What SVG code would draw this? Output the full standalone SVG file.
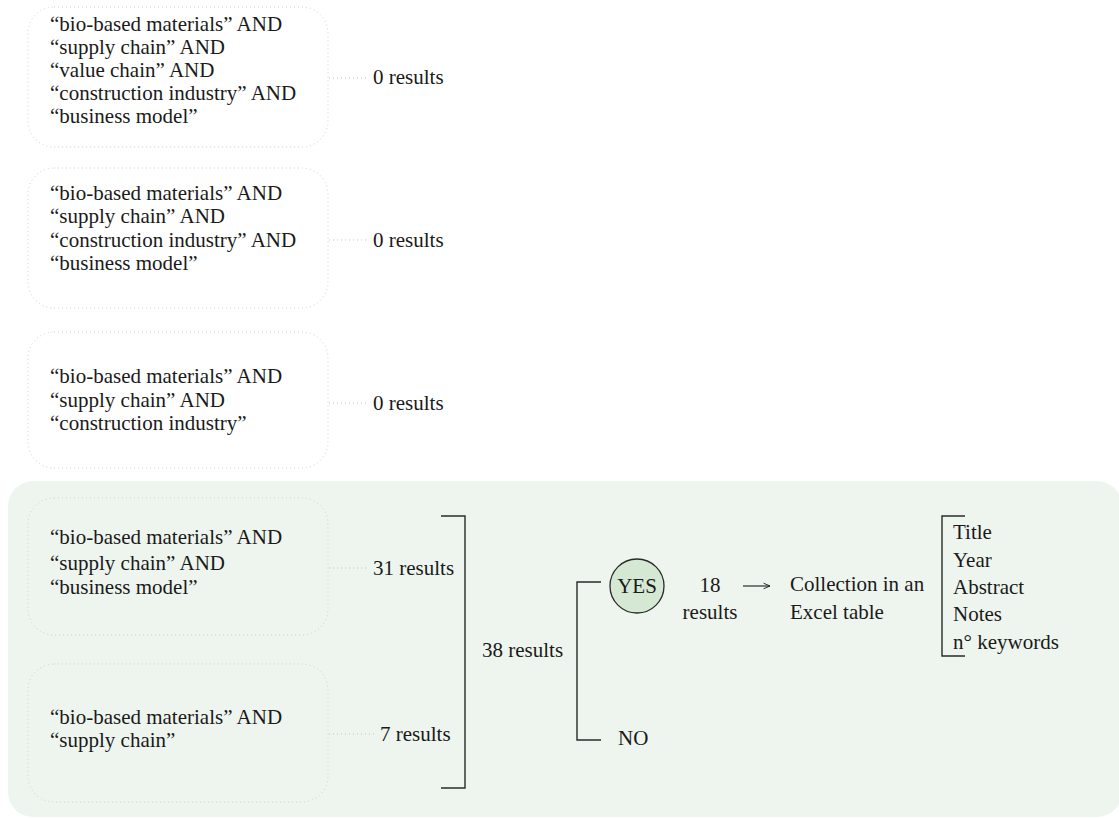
<svg xmlns="http://www.w3.org/2000/svg" width="1119" height="818" viewBox="0 0 1119 818">
  <style>
    text { font-family: "Liberation Serif", "DejaVu Serif", serif; font-size: 21px; fill: #1a1a1a; }
    .query { fill: none; stroke: #cfcfcf; stroke-width: 1; stroke-dasharray: 1 3; }
    .lead { fill: none; stroke: #c4c4c4; stroke-width: 1; stroke-dasharray: 1 3; }
    .bracket { fill: none; stroke: #2a2a2a; stroke-width: 1.4; }
    .mid { text-anchor: middle; }
  </style>
  <defs>
    <marker id="arrowhead" viewBox="0 0 10 10" refX="9" refY="5" markerWidth="8" markerHeight="8" orient="auto" markerUnits="userSpaceOnUse">
      <path d="M1,1.5 L9,5 L1,8.5" fill="none" stroke="#1a1a1a" stroke-width="1.1"/>
    </marker>
  </defs>

  <!-- selection panel behind the two productive queries -->
  <rect id="panel" x="8" y="481" width="1114" height="336" rx="25" fill="#eef5ee"/>

  <g id="q1">
    <rect class="query" x="28" y="7" width="300" height="140" rx="26"/>
    <text x="50" y="31">“bio-based materials” AND</text>
    <text x="50" y="54">“supply chain” AND</text>
    <text x="50" y="77">“value chain” AND</text>
    <text x="50" y="100">“construction industry” AND</text>
    <text x="50" y="123">“business model”</text>
  </g>
  <g id="r1"><text x="373" y="84">0 results</text></g>

  <g id="q2">
    <rect class="query" x="28" y="168" width="300" height="140" rx="26"/>
    <text x="50" y="200">“bio-based materials” AND</text>
    <text x="50" y="223">“supply chain” AND</text>
    <text x="50" y="247">“construction industry” AND</text>
    <text x="50" y="270">“business model”</text>
  </g>
  <g id="r2"><text x="373" y="247">0 results</text></g>

  <g id="q3">
    <rect class="query" x="28" y="332" width="300" height="136" rx="26"/>
    <text x="50" y="383">“bio-based materials” AND</text>
    <text x="50" y="407">“supply chain” AND</text>
    <text x="50" y="430">“construction industry”</text>
  </g>
  <g id="r3"><text x="373" y="410">0 results</text></g>

  <g id="q4">
    <rect class="query" x="28" y="498" width="300" height="137" rx="26"/>
    <text x="50" y="544">“bio-based materials” AND</text>
    <text x="50" y="570">“supply chain” AND</text>
    <text x="50" y="594">“business model”</text>
  </g>
  <g id="r4"><text x="373" y="575">31 results</text></g>

  <g id="q5">
    <rect class="query" x="28" y="664" width="300" height="138" rx="26"/>
    <text x="50" y="724">“bio-based materials” AND</text>
    <text x="50" y="747">“supply chain”</text>
  </g>
  <g id="r5"><text x="380" y="741">7 results</text></g>

  <g id="total"><text x="482" y="657">38 results</text></g>

  <g id="yes">
    <circle cx="637" cy="586" r="27" fill="#d5e8d4" stroke="#2a2a2a" stroke-width="1.3"/>
    <text class="mid" x="637" y="593">YES</text>
  </g>
  <g id="no"><text x="618" y="745">NO</text></g>

  <g id="kept">
    <text class="mid" x="710" y="592">18</text>
    <text class="mid" x="710" y="619">results</text>
  </g>

  <g id="collection">
    <text x="790" y="591">Collection in an</text>
    <text x="790" y="619">Excel table</text>
  </g>

  <g id="fields">
    <text x="953" y="539">Title</text>
    <text x="953" y="567">Year</text>
    <text x="953" y="594">Abstract</text>
    <text x="953" y="621">Notes</text>
    <text x="953" y="649">n° keywords</text>
  </g>

  <g id="connectors">
    <line class="lead" x1="329" y1="78" x2="366" y2="78"/>
    <line class="lead" x1="329" y1="240" x2="366" y2="240"/>
    <line class="lead" x1="329" y1="403" x2="366" y2="403"/>
    <line class="lead" x1="329" y1="568" x2="368" y2="568"/>
    <line class="lead" x1="329" y1="734" x2="374" y2="734"/>
    <path class="bracket" d="M441,516 H465 V788 H441"/>
    <path class="bracket" d="M601,582 H577 V740 H601"/>
    <line x1="743" y1="586" x2="770" y2="586" stroke="#1a1a1a" stroke-width="1.1" marker-end="url(#arrowhead)"/>
    <path class="bracket" d="M965,516 H942 V656 H965"/>
  </g>
</svg>
